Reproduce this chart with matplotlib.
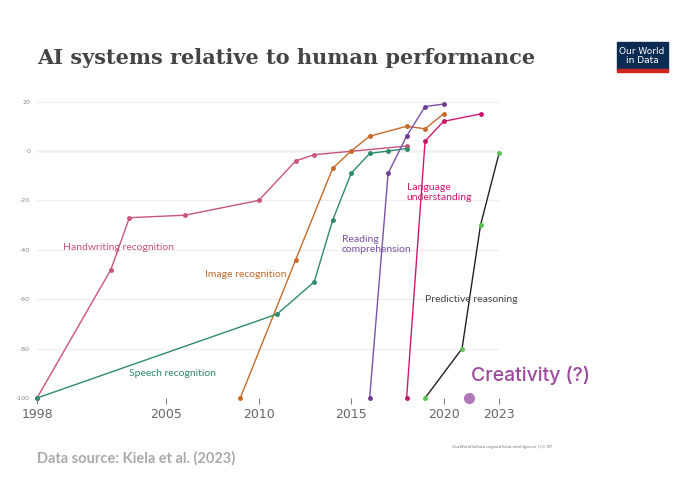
import matplotlib.pyplot as plt
import matplotlib.ticker as ticker

plt.rcParams['axes.unicode_minus'] = False

hand_x = [1998, 2002, 2003, 2006, 2010, 2012, 2013, 2018]
hand_y = [-100, -48, -27, -26, -20, -4, -1.5, 2]
image_x = [2009, 2012, 2014, 2015, 2016, 2018, 2019, 2020]
image_y = [-100, -44, -7, 0, 6, 10, 9, 15]
speech_x = [1998, 2011, 2013, 2014, 2015, 2016, 2017, 2018]
speech_y = [-100, -66, -53, -28, -9, -1, 0, 1]
read_x = [2016, 2017, 2018, 2019, 2020]
read_y = [-100, -9, 6, 18, 19]
lang_x = [2018, 2019, 2020, 2022]
lang_y = [-100, 4, 12, 15]
pred_x = [2019, 2021, 2022, 2023]
pred_y = [-100, -80, -30, -1]

fig = plt.figure(figsize=(6.8, 4.8), dpi=100)
ax = fig.add_axes([37/680, 1 - 398/480, (499-37)/680, (398-101.6)/480])
ax.set_xlim(1998, 2023)
ax.set_ylim(-100, 20)
ax.margins(0)

series = [
    (hand_x, hand_y, '#c8557a', '#c8557a'),
    (image_x, image_y, '#c66a2b', '#c66a2b'),
    (speech_x, speech_y, '#2f8a6a', '#2f8a6a'),
    (read_x, read_y, '#7a52a8', '#6d3e91'),
    (lang_x, lang_y, '#d0176f', '#c4166a'),
    (pred_x, pred_y, '#222222', '#5cc14f'),
]
for x, y, c, mc in series:
    ax.plot(x, y, color=c, lw=1, marker='o', ms=2.5, mfc=mc, mec=mc, clip_on=False, zorder=3)

ax.axhline(0, color='#cccccc', lw=1, zorder=1)
ax.yaxis.set_major_locator(ticker.MultipleLocator(20))
ax.grid(axis='y', color='#eeeeee', lw=0.8)
ax.set_xticks([1998, 2005, 2010, 2015, 2020, 2023])
ax.tick_params(axis='x', labelsize=9, colors='#666666', length=4, width=0.6)
ax.tick_params(axis='y', labelsize=4.5, colors='#888888', length=0, pad=5)
for s in ax.spines.values():
    s.set_visible(False)

txt = dict(fontsize=7.5, family='Lato')
ax.text(1999.4, -40, 'Handwriting recognition', color='#c8557a', **txt)
ax.text(2007.1, -51, 'Image recognition', color='#c66a2b', **txt)
ax.text(2003, -91, 'Speech recognition', color='#2f8a6a', **txt)
ax.text(2014.5, -41, 'Reading\ncomprehension', color='#7a52a8', **txt)
ax.text(2018, -20, 'Language\nunderstanding', color='#d0176f', **txt)
ax.text(2019, -61, 'Predictive reasoning', color='#444444', **txt)
ax.text(2021.5, -93, 'Creativity (?)', color='#9b4b9e', fontsize=14, family='Inter', fontweight='medium')
ax.plot([2021.4], [-100], 'o', ms=7, color='#b07ab8', clip_on=False)

fig.text(37/680, 1 - 58/480, 'AI systems relative to human performance', fontsize=15,
         family='DejaVu Serif', fontweight='bold', color='#444444', va='center')
fig.text(37/680, 1 - 458/480, 'Data source: Kiela et al. (2023)', fontsize=10.5,
         family='Lato', fontweight='bold', color='#aaaaaa', va='center')
fig.text(552/680, 1 - 447/480, 'OurWorldInData.org/artificial-intelligence | CC BY', fontsize=3,
         color='#777777', ha='right', va='center')
fig.patches.append(plt.Rectangle((617/680, 1 - 70/480), 51/680, 28/480, transform=fig.transFigure,
                                 color='#0d2c54'))
fig.patches.append(plt.Rectangle((617/680, 1 - 72/480), 51/680, 2.5/480, transform=fig.transFigure,
                                 color='#ce261e'))
fig.text(642/680, 1 - 56/480, 'Our World\nin Data', fontsize=6.5, color='white', ha='center',
         va='center', linespacing=1.0)

fig.savefig('out.png')
